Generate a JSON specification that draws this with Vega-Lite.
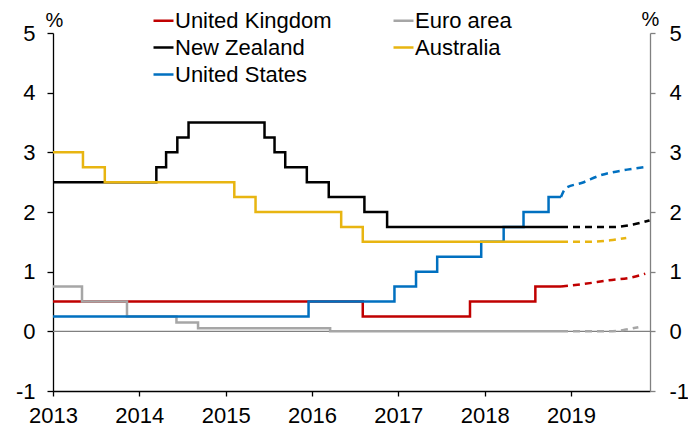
{
  "$schema": "https://vega.github.io/schema/vega-lite/v6.json",
  "width": 597,
  "height": 358,
  "autosize": {"type": "none"},
  "padding": {"left": 53, "top": 33, "right": 38, "bottom": 39},
  "background": "white",
  "config": {
    "font": "Liberation Sans",
    "view": {"stroke": null},
    "axis": {"grid": false, "labelColor": "#000000", "labelFontSize": 22, "labelFlush": false, "labelOverlap": false, "titleFontSize": 20, "titleFontWeight": "normal", "titleColor": "#000000", "domainWidth": 1.3, "tickWidth": 1.3}
  },
  "data": {
    "values": [
      {"country": "United Kingdom", "type": "solid", "year": 2013, "rate": 0.5},
      {"country": "United Kingdom", "type": "solid", "year": 2016.588, "rate": 0.25},
      {"country": "United Kingdom", "type": "solid", "year": 2017.83, "rate": 0.5},
      {"country": "United Kingdom", "type": "solid", "year": 2018.587, "rate": 0.75},
      {"country": "United Kingdom", "type": "solid", "year": 2018.884, "rate": 0.75},
      {"country": "Euro area", "type": "solid", "year": 2013, "rate": 0.75},
      {"country": "Euro area", "type": "solid", "year": 2013.336, "rate": 0.5},
      {"country": "Euro area", "type": "solid", "year": 2013.857, "rate": 0.25},
      {"country": "Euro area", "type": "solid", "year": 2014.43, "rate": 0.15},
      {"country": "Euro area", "type": "solid", "year": 2014.68, "rate": 0.05},
      {"country": "Euro area", "type": "solid", "year": 2016.21, "rate": 0.0},
      {"country": "Euro area", "type": "solid", "year": 2018.884, "rate": 0.0},
      {"country": "United States", "type": "solid", "year": 2013, "rate": 0.25},
      {"country": "United States", "type": "solid", "year": 2015.96, "rate": 0.5},
      {"country": "United States", "type": "solid", "year": 2016.955, "rate": 0.75},
      {"country": "United States", "type": "solid", "year": 2017.205, "rate": 1.0},
      {"country": "United States", "type": "solid", "year": 2017.45, "rate": 1.25},
      {"country": "United States", "type": "solid", "year": 2017.96, "rate": 1.5},
      {"country": "United States", "type": "solid", "year": 2018.22, "rate": 1.75},
      {"country": "United States", "type": "solid", "year": 2018.45, "rate": 2.0},
      {"country": "United States", "type": "solid", "year": 2018.74, "rate": 2.25},
      {"country": "United States", "type": "solid", "year": 2018.884, "rate": 2.25},
      {"country": "New Zealand", "type": "solid", "year": 2013, "rate": 2.5},
      {"country": "New Zealand", "type": "solid", "year": 2014.197, "rate": 2.75},
      {"country": "New Zealand", "type": "solid", "year": 2014.31, "rate": 3.0},
      {"country": "New Zealand", "type": "solid", "year": 2014.44, "rate": 3.25},
      {"country": "New Zealand", "type": "solid", "year": 2014.57, "rate": 3.5},
      {"country": "New Zealand", "type": "solid", "year": 2015.45, "rate": 3.25},
      {"country": "New Zealand", "type": "solid", "year": 2015.566, "rate": 3.0},
      {"country": "New Zealand", "type": "solid", "year": 2015.69, "rate": 2.75},
      {"country": "New Zealand", "type": "solid", "year": 2015.94, "rate": 2.5},
      {"country": "New Zealand", "type": "solid", "year": 2016.194, "rate": 2.25},
      {"country": "New Zealand", "type": "solid", "year": 2016.607, "rate": 2.0},
      {"country": "New Zealand", "type": "solid", "year": 2016.87, "rate": 1.75},
      {"country": "New Zealand", "type": "solid", "year": 2018.884, "rate": 1.75},
      {"country": "Australia", "type": "solid", "year": 2013, "rate": 3.0},
      {"country": "Australia", "type": "solid", "year": 2013.347, "rate": 2.75},
      {"country": "Australia", "type": "solid", "year": 2013.6, "rate": 2.5},
      {"country": "Australia", "type": "solid", "year": 2015.1, "rate": 2.25},
      {"country": "Australia", "type": "solid", "year": 2015.346, "rate": 2.0},
      {"country": "Australia", "type": "solid", "year": 2016.338, "rate": 1.75},
      {"country": "Australia", "type": "solid", "year": 2016.588, "rate": 1.5},
      {"country": "Australia", "type": "solid", "year": 2018.884, "rate": 1.5},
      {"country": "United Kingdom", "type": "forecast", "year": 2018.884, "rate": 0.75},
      {"country": "United Kingdom", "type": "forecast", "year": 2019.13, "rate": 0.79},
      {"country": "United Kingdom", "type": "forecast", "year": 2019.44, "rate": 0.855},
      {"country": "United Kingdom", "type": "forecast", "year": 2019.71, "rate": 0.905},
      {"country": "United Kingdom", "type": "forecast", "year": 2019.86, "rate": 0.966},
      {"country": "Euro area", "type": "forecast", "year": 2018.884, "rate": 0.0},
      {"country": "Euro area", "type": "forecast", "year": 2019.45, "rate": 0.0},
      {"country": "Euro area", "type": "forecast", "year": 2019.62, "rate": 0.025},
      {"country": "Euro area", "type": "forecast", "year": 2019.78, "rate": 0.07},
      {"country": "United States", "type": "forecast", "year": 2018.884, "rate": 2.25},
      {"country": "United States", "type": "forecast", "year": 2018.94, "rate": 2.4},
      {"country": "United States", "type": "forecast", "year": 2019.13, "rate": 2.49},
      {"country": "United States", "type": "forecast", "year": 2019.33, "rate": 2.61},
      {"country": "United States", "type": "forecast", "year": 2019.65, "rate": 2.71},
      {"country": "United States", "type": "forecast", "year": 2019.89, "rate": 2.76},
      {"country": "New Zealand", "type": "forecast", "year": 2018.884, "rate": 1.75},
      {"country": "New Zealand", "type": "forecast", "year": 2019.5, "rate": 1.75},
      {"country": "New Zealand", "type": "forecast", "year": 2019.72, "rate": 1.79},
      {"country": "New Zealand", "type": "forecast", "year": 2019.91, "rate": 1.86},
      {"country": "Australia", "type": "forecast", "year": 2018.884, "rate": 1.5},
      {"country": "Australia", "type": "forecast", "year": 2019.2, "rate": 1.5},
      {"country": "Australia", "type": "forecast", "year": 2019.45, "rate": 1.525},
      {"country": "Australia", "type": "forecast", "year": 2019.64, "rate": 1.565}
    ]
  },
  "layer": [
    {
      "data": {"values": [{"z": 0}]},
      "mark": {"type": "rule", "color": "#808080", "strokeWidth": 1.3},
      "encoding": {
        "y": {
          "field": "z", "type": "quantitative",
          "scale": {"domain": [-1, 5], "nice": false, "zero": false},
          "axis": {"orient": "right", "values": [-1, 0, 1, 2, 3, 4, 5], "labelExpr": "replace(datum.label, '\u2212', '-')", "domainColor": "#808080", "tickColor": "#808080", "tickSize": 5, "labelPadding": 14, "title": "%", "titleAngle": 0, "titleAlign": "center", "titleBaseline": "middle", "titleX": 0, "titleY": -14}
        }
      }
    },
    {
      "transform": [{"filter": "datum.type === 'solid'"}],
      "mark": {"type": "line", "interpolate": "step-after", "strokeWidth": 2.5},
      "encoding": {
        "x": {
          "field": "year", "type": "quantitative",
          "scale": {"domain": [2013, 2019.915], "nice": false, "zero": false},
          "axis": {"values": [2013, 2014, 2015, 2016, 2017, 2018, 2019], "format": "d", "title": null, "domainColor": "#000000", "tickColor": "#000000", "tickSize": 5, "labelPadding": 9}
        },
        "y": {
          "field": "rate", "type": "quantitative",
          "axis": {"orient": "left", "values": [-1, 0, 1, 2, 3, 4, 5], "labelExpr": "replace(datum.label, '\u2212', '-')", "domainColor": "#000000", "tickColor": "#000000", "tickSize": 6, "labelPadding": 12, "title": "%", "titleAngle": 0, "titleAlign": "center", "titleBaseline": "middle", "titleX": 1, "titleY": -13}
        },
        "color": {
          "field": "country", "type": "nominal",
          "scale": {"domain": ["United Kingdom", "New Zealand", "United States", "Euro area", "Australia"], "range": ["#C00000", "#000000", "#0070C0", "#A6A6A6", "#E8B511"]},
          "legend": {"title": null, "orient": "none", "legendX": 99, "legendY": -24, "columns": 2, "columnPadding": 56, "rowPadding": 4, "padding": 0, "symbolType": "stroke", "symbolSize": 400, "symbolStrokeWidth": 2.5, "symbolDash": [1, 0], "labelOffset": 0, "labelFontSize": 22, "labelColor": "#000000", "labelLimit": 400}
        }
      }
    },
    {
      "transform": [{"filter": "datum.type === 'forecast'"}],
      "mark": {"type": "line", "interpolate": "monotone", "strokeWidth": 2.5, "strokeDash": [7, 5]},
      "encoding": {
        "x": {"field": "year", "type": "quantitative"},
        "y": {"field": "rate", "type": "quantitative", "axis": null},
        "color": {"field": "country", "type": "nominal"}
      }
    }
  ],
  "resolve": {"axis": {"y": "independent"}}
}
